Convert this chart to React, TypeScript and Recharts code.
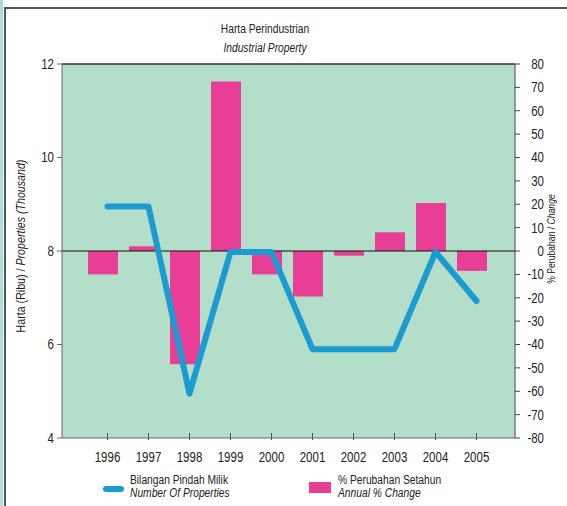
import React from "react";
import {
  ComposedChart,
  Bar,
  Line,
  XAxis,
  YAxis,
  CartesianGrid,
  ReferenceLine,
} from "recharts";

const years = ["1996", "1997", "1998", "1999", "2000", "2001", "2002", "2003", "2004", "2005"];
const properties = [8.95, 8.95, 4.95, 7.98, 7.98, 5.9, 5.9, 5.9, 7.98, 6.93];
const changes = [-10, 2, -48.5, 72.5, -10, -19.5, -2, 8, 20.5, -8.5];
const leftTicks = [4, 6, 8, 10, 12];
const rightTicks = [-80, -70, -60, -50, -40, -30, -20, -10, 0, 10, 20, 30, 40, 50, 60, 70, 80];

const data = years.map((year, i) => ({
  year,
  properties: properties[i],
  change: changes[i],
}));

// no narrow font installed, so Liberation Sans gets squeezed horizontally
const FONT = '"Liberation Sans", Arial, sans-serif';
const SQUEEZE = 0.82;
const BLUE = "#1b9bd0";
const PINK = "#e93e95";
const PLOT_BG = "#b3dec9";
const TEXT = "#222";

const Narrow = ({ x, y, rotate = 0, anchor = "middle", size = 14, dy = 0, children }: any) => (
  <g transform={`translate(${x},${y}) rotate(${rotate}) scale(${SQUEEZE},1)`}>
    <text x={0} y={0} dy={dy} textAnchor={anchor} fontSize={size} fill={TEXT} fontFamily={FONT}>
      {children}
    </text>
  </g>
);

const YearTick = ({ x, y, payload }: any) => (
  <g>
    <line x1={x} y1={y} x2={x} y2={y - 7} stroke="#555" strokeWidth={1} />
    <Narrow x={x} y={y + 22}>{payload.value}</Narrow>
  </g>
);

const LeftTick = ({ x, y, payload }: any) => (
  <Narrow x={x} y={y} anchor="end" dy="0.355em">{payload.value}</Narrow>
);

const RightTick = ({ x, y, payload }: any) => (
  <Narrow x={x + 22} y={y} anchor="end" dy="0.355em">{payload.value}</Narrow>
);

const LeftLabel = () => (
  <Narrow x={25} y={246} rotate={-90} size={13}>
    Harta (Ribu) / <tspan fontStyle="italic">Properties (Thousand)</tspan>
  </Narrow>
);

const RightLabel = () => (
  <Narrow x={555} y={239} rotate={-90} size={10.5}>
    % Perubahan / <tspan fontStyle="italic">Change</tspan>
  </Narrow>
);

const squeezeLeft: React.CSSProperties = {
  transform: `scaleX(${SQUEEZE})`,
  transformOrigin: "left center",
  whiteSpace: "nowrap",
};

export default function App() {
  return (
    <div style={{ position: "relative", width: 567, height: 506, background: "#fff", fontFamily: FONT }}>
      <style>{`body{margin:0}`}</style>
      {/* frame */}
      <div style={{ position: "absolute", left: 0, top: 0, width: 3, height: 506, background: "#a9dde0" }} />
      <div style={{ position: "absolute", left: 4, top: 7, width: 2, height: 499, background: "#555" }} />
      <div style={{ position: "absolute", left: 4, top: 7, width: 563, height: 2, background: "#555" }} />

      <div
        style={{
          position: "absolute", left: 0, width: 530, top: 22, textAlign: "center",
          fontSize: 12.5, lineHeight: "15px", color: TEXT,
          transform: `scaleX(${SQUEEZE})`, whiteSpace: "nowrap",
        }}
      >
        Harta Perindustrian
      </div>
      <div
        style={{
          position: "absolute", left: 0, width: 530, top: 41, textAlign: "center",
          fontSize: 12.5, lineHeight: "15px", color: TEXT, fontStyle: "italic",
          transform: `scaleX(${SQUEEZE})`, whiteSpace: "nowrap",
        }}
      >
        Industrial Property
      </div>

      <div style={{ position: "absolute", left: 0, top: 0 }}>
        <ComposedChart width={567} height={506} data={data} margin={{ top: 64, right: 0, bottom: 38, left: 0 }}>
          <CartesianGrid fill={PLOT_BG} horizontal={false} vertical={false} />
          <XAxis
            xAxisId="line"
            dataKey="year"
            padding={{ left: 25, right: 18 }}
            height={30}
            tickSize={0}
            tickLine={false}
            axisLine={{ stroke: "#666" }}
            tick={<YearTick />}
            interval={0}
          />
          <XAxis xAxisId="bars" dataKey="year" padding={{ left: 20, right: 23 }} height={0} hide />
          <YAxis
            yAxisId="left"
            width={62}
            domain={[4, 12]}
            ticks={leftTicks}
            interval={0}
            tickSize={5}
            tickMargin={3}
            axisLine={{ stroke: "#666" }}
            tickLine={{ stroke: "#666" }}
            tick={<LeftTick />}
            label={<LeftLabel />}
          />
          <YAxis
            yAxisId="right"
            orientation="right"
            width={52}
            domain={[-80, 80]}
            ticks={rightTicks}
            interval={0}
            tickSize={5}
            axisLine={{ stroke: "#444" }}
            tickLine={{ stroke: "#444" }}
            tick={<RightTick />}
            label={<RightLabel />}
          />
          <ReferenceLine yAxisId="left" xAxisId="line" y={12} stroke="#333" strokeWidth={1.5} />
          <Bar
            xAxisId="bars"
            yAxisId="right"
            dataKey="change"
            fill={PINK}
            barSize={30}
            isAnimationActive={false}
          />
          <ReferenceLine yAxisId="right" xAxisId="line" y={0} stroke="#111" strokeWidth={1.2} />
          <Line
            xAxisId="line"
            yAxisId="left"
            type="linear"
            dataKey="properties"
            stroke={BLUE}
            strokeWidth={6}
            strokeLinecap="round"
            strokeLinejoin="round"
            dot={false}
            activeDot={false}
            isAnimationActive={false}
          />
        </ComposedChart>
      </div>

      {/* legend */}
      <div style={{ position: "absolute", left: 103, top: 486, width: 21, height: 6, borderRadius: 3, background: BLUE }} />
      <div style={{ position: "absolute", left: 130, top: 474, fontSize: 12.5, lineHeight: "13px", color: TEXT, ...squeezeLeft }}>
        Bilangan Pindah Milik
        <br />
        <i>Number Of Properties</i>
      </div>
      <div style={{ position: "absolute", left: 309, top: 482, width: 22, height: 11, background: PINK }} />
      <div style={{ position: "absolute", left: 338, top: 474, fontSize: 12.5, lineHeight: "13px", color: TEXT, ...squeezeLeft }}>
        % Perubahan Setahun
        <br />
        <i>Annual % Change</i>
      </div>
    </div>
  );
}
